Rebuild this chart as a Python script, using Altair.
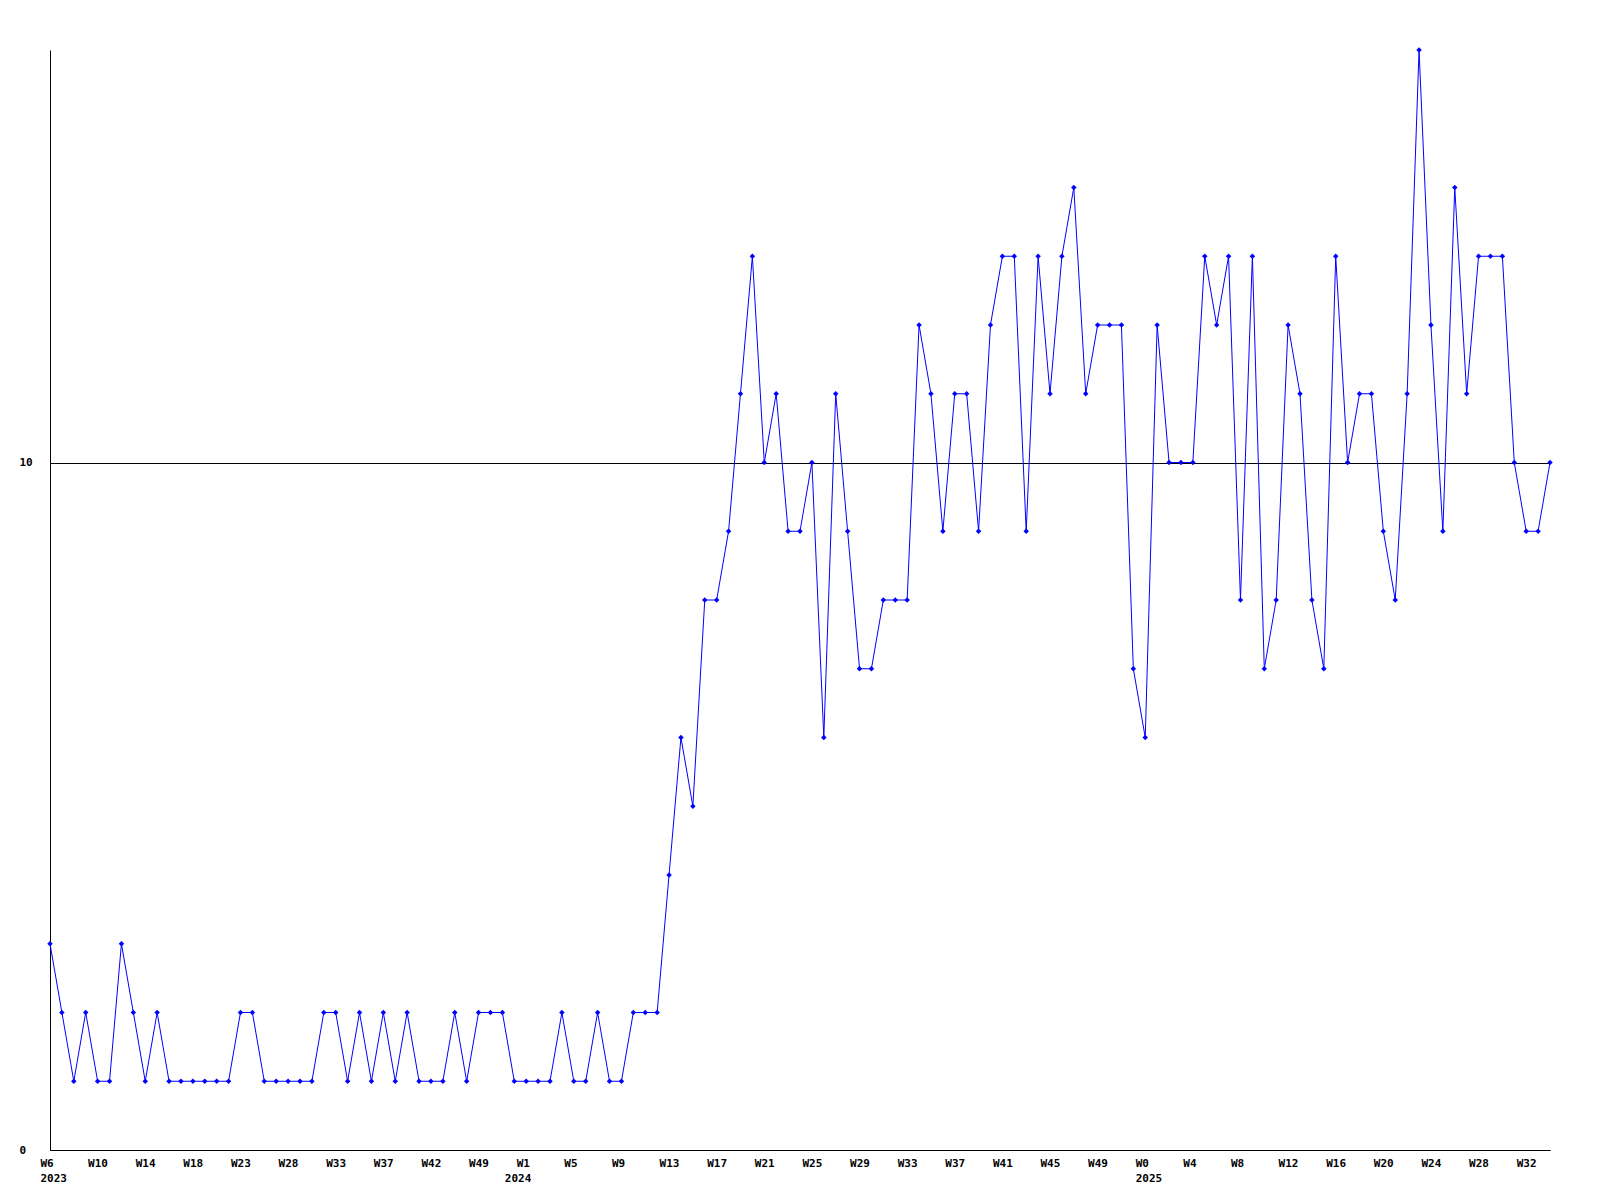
import json
import altair as alt
import pandas as pd

# Weekly values, one per data point (index 0 = W6 2023)
values = [
    3, 2, 1, 2, 1, 1, 3, 2, 1, 2, 1, 1, 1, 1, 1, 1, 2, 2, 1, 1, 1, 1, 1, 2, 2, 1, 2, 1, 2, 1, 2, 1,
    1, 1, 2, 1, 2, 2, 2, 1, 1, 1, 1, 2, 1, 1, 2, 1, 1, 2, 2, 2,
    4, 6, 5, 8, 8, 9, 11, 13, 10, 11, 9, 9, 10, 6, 11,
    9, 7, 7, 8, 8, 8, 12, 11, 9, 11, 11, 9, 12,
    13, 13, 9, 13, 11, 13, 14, 11, 12, 12, 12, 7, 6, 12, 10,
    10, 10, 13, 12, 13, 8, 13, 7, 8, 12, 11, 8, 7, 13, 10, 11,
    11, 9, 8, 11, 16, 12, 9, 14, 11, 13, 13, 13, 10, 9, 9, 10,
]

# Tick labels shown every 4th point
tick_labels = [
    "W6", "W10", "W14", "W18", "W23", "W28", "W33", "W37", "W42", "W49",
    "W1", "W5", "W9", "W13", "W17", "W21", "W25", "W29", "W33", "W37",
    "W41", "W45", "W49", "W0", "W4", "W8", "W12", "W16", "W20", "W24",
    "W28", "W32",
]
tick_step = 4
# Years and the index of the first data point of each year
years = ["2023", "2024", "2025"]
year_starts = [0, 39, 92]
y_ticks = [0, 10]

df = pd.DataFrame({"idx": list(range(len(values))), "value": values})

label_expr = f"{json.dumps(tick_labels)}[round(datum.value / {tick_step})]"
tick_vals = [k * tick_step for k in range(len(tick_labels))]
year_map = {str(p): y for p, y in zip(year_starts, years)}
year_expr = f"{json.dumps(year_map)}[toString(datum.value)]"

FONT = "DejaVu Sans Mono"
x_scale = alt.Scale(domain=[0, len(values) - 1], nice=False, zero=False)

common_label = dict(
    labelAlign="left",
    labelBaseline="top",
    labelOffset=-10,
    labelPadding=7,
    labelFont=FONT,
    labelFontSize=11,
    labelFontWeight="bold",
    labelColor="black",
    labelOverlap=False,
    labelFlush=False,
    labelBound=False,
)

x_week = alt.X(
    "idx:Q",
    scale=x_scale,
    axis=alt.Axis(
        title=None,
        orient="bottom",
        values=tick_vals,
        labelExpr=label_expr,
        ticks=False,
        tickSize=0,
        grid=False,
        domainColor="black",
        domainWidth=1,
        **common_label,
    ),
)
x_year = alt.X(
    "idx:Q",
    scale=x_scale,
    axis=alt.Axis(
        title=None,
        orient="bottom",
        values=year_starts,
        labelExpr=year_expr,
        ticks=False,
        tickSize=0,
        grid=False,
        domain=False,
        offset=15,
        **common_label,
    ),
)
y_enc = alt.Y(
    "value:Q",
    scale=alt.Scale(domain=[0, 16], nice=False),
    axis=alt.Axis(
        title=None,
        values=y_ticks,
        format="d",
        ticks=False,
        tickSize=0,
        grid=True,
        gridColor="black",
        gridOpacity=1,
        gridWidth=1,
        domainColor="black",
        domainWidth=1,
        labelAlign="left",
        labelBaseline="middle",
        labelPadding=31,
        labelFont=FONT,
        labelFontSize=11,
        labelFontWeight="bold",
        labelColor="black",
        labelFlush=False,
        labelBound=False,
    ),
)

line = alt.Chart(df).mark_line(color="#0000ff", strokeWidth=1).encode(x=x_week, y=y_enc)
points = alt.Chart(df).mark_point(
    shape="diamond", filled=True, color="#0000ff", size=30, opacity=1
).encode(x=x_year, y=y_enc)

chart = (
    alt.layer(line, points)
    .resolve_axis(x="independent")
    .properties(
        width=1500,
        height=1100,
        autosize=alt.AutoSizeParams(type="none"),
        padding={"left": 42, "top": 42, "right": 40, "bottom": 40},
        background="white",
    )
    .configure_view(stroke="transparent")
)

chart.save("out.html", embed_options={"renderer": "svg", "actions": False})
